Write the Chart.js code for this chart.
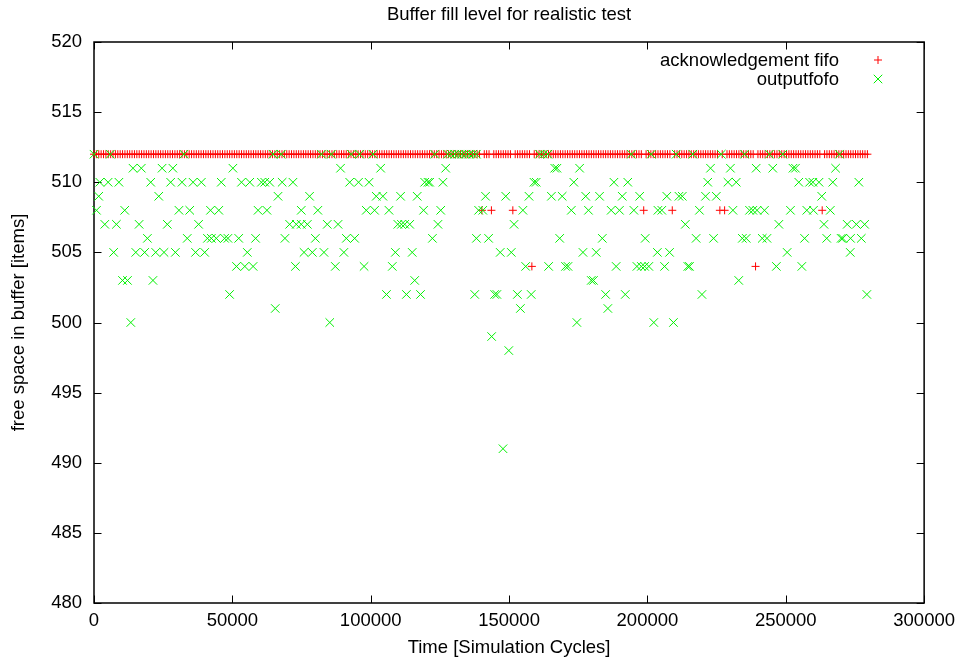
<!DOCTYPE html>
<html>
<head>
<meta charset="utf-8">
<script src="https://cdn.jsdelivr.net/npm/chart.js@4.4.0/dist/chart.umd.min.js"></script>
<style>
  html, body { margin: 0; padding: 0; background: #fff; }
  #wrap { width: 962px; height: 659px; }
</style>
</head>
<body>
<div id="wrap"><canvas id="fillChart" width="962" height="659"></canvas></div>
<script>
(function () {

  /* axis ranges + ticks */
  const xMin = 0, xMax = 300000, xStep = 50000;
  const yMin = 480, yMax = 520, yStep = 5;

  const chartTitle = "Buffer fill level for realistic test";

  /* acknowledgement fifo: one sample every ackStep cycles */
  const ackStep = 860;
  const ackLevels = [
    512,512,512,512,512,512,512,512,512,512,512,512,512,512,512,512,512,512,512,512, // 0
    512,512,512,512,512,512,512,512,512,512,512,512,512,512,512,512,512,512,512,512, // 20
    512,512,512,512,512,512,512,512,512,512,512,512,512,512,512,512,512,512,512,512, // 40
    512,512,512,512,512,512,512,512,512,512,512,512,512,512,512,512,512,512,512,512, // 60
    512,512,512,512,512,512,512,512,512,512,512,512,512,512,512,512,512,512,512,512, // 80
    512,512,512,512,512,512,512,512,512,512,512,512,512,512,512,512,512,512,512,512, // 100
    512,512,512,512,512,512,512,512,512,512,512,512,512,512,512,512,512,512,512,512, // 120
    512,512,512,512,512,512,512,512,512,512,512,512,512,512,512,512,512,512,512,512, // 140
    512,512,512,508,512,512,512,508,512,512,512,512,512,512,512,512,508,512,512,512, // 160
    512,512,512,512,504,512,512,512,512,512,512,512,512,512,512,512,512,512,512,512, // 180
    512,512,512,512,512,512,512,512,512,512,512,512,512,512,512,512,512,512,512,512, // 200
    512,512,512,512,512,512,512,512,512,512,512,508,512,512,512,512,512,512,512,512, // 220
    512,512,512,508,512,512,512,512,512,512,512,512,512,512,512,512,512,512,512,512, // 240
    512,512,512,508,512,508,512,512,512,512,512,512,512,512,512,512,512,512,504,512, // 260
    512,512,512,512,512,512,512,512,512,512,512,512,512,512,512,512,512,512,512,512, // 280
    512,512,512,512,512,512,508,512,512,512,512,512,512,512,512,512,512,512,512,512, // 300
    512,512,512,512,512,512                                                          // 320
  ];

  /* outputfofo: sample times (cycles) grouped by fill level */
  const out512 = [0, 5900, 32500, 64700, 67700, 82200, 85800, 93000, 96000, 100800, 123100,
    127800, 129100, 130400, 131700, 133000, 134300, 135600, 136900, 138200,
    161000, 162500, 164000, 194200, 201400, 210400, 216400, 226700, 235100, 244100, 248900, 269400];
  const out511 = [14100, 17100, 24600, 28500, 50200, 89100, 103600, 127100, 166500, 167300, 175500,
    222800, 230000, 239300, 245300, 252600, 253500, 268000];
  const out510 = [2100, 5100, 9000, 20500, 27700, 31800, 35800, 38800, 46000, 53300, 56300, 60500,
    61700, 63500, 68000, 71900, 92400, 95600, 99400, 119500, 120700, 121300, 126100, 159000, 159800,
    173400, 187900, 192900, 221800, 229100, 232100, 254700, 258600, 259800, 262000, 267000, 276400];
  const out509 = [1700, 23400, 66500, 77900, 102000, 104400, 110800, 116800, 141500, 148800, 157200,
    165300, 169200, 177700, 182700, 190900, 197200, 207000, 211400, 212600, 221000, 224900, 263000];
  const out508 = [900, 11100, 30700, 34600, 42100, 45100, 59300, 62500, 74900, 80900, 98400, 101400,
    106600, 119100, 125300, 139000, 140500, 155000, 172500, 178700, 186900, 189900, 195100, 203800,
    205200, 218800, 230900, 236900, 238100, 239600, 242300, 251700, 257600, 260000, 266100];
  const out507 = [3900, 8100, 16300, 26500, 37800, 70700, 73100, 74900, 77100, 84300, 88200, 109800,
    111100, 112300, 114100, 124300, 151800, 213700, 247500, 263800, 272200, 275500, 278500];
  const out506 = [19300, 33700, 41000, 42400, 44200, 47200, 48400, 52300, 58400, 69000, 80000, 91200,
    94200, 122300, 138200, 142600, 168300, 183700, 199200, 217600, 223900, 234300, 235700, 241500,
    243200, 256800, 264800, 270000, 270600, 273400, 277300];
  const out505 = [7100, 15100, 18300, 22300, 25300, 29400, 36700, 40000, 55400, 75900, 78900, 83100,
    90300, 108900, 115000, 146800, 150800, 176700, 181500, 203600, 208000, 250500, 273300];
  const out504 = [51500, 54500, 57500, 72800, 87200, 97600, 107800, 156000, 164300, 170400, 171300,
    188700, 196200, 197800, 199000, 200500, 206200, 214600, 215200, 246600, 255800];
  const out503 = [10300, 12100, 21300, 115900, 179700, 180500, 233000];
  const out502 = [49000, 105700, 112900, 118000, 137600, 144800, 145600, 153000, 158000, 184900,
    192000, 219700, 279300];
  const out501 = [65500, 154100, 185700];
  const out500 = [13300, 85200, 174500, 202300, 209400];
  const out499 = [143700];
  const out498 = [149900];
  const out491 = [147800];

  const outByLevel = [
    [512, out512], [511, out511], [510, out510], [509, out509], [508, out508], [507, out507],
    [506, out506], [505, out505], [504, out504], [503, out503], [502, out502], [501, out501],
    [500, out500], [499, out499], [498, out498], [491, out491]
  ];

  const ackPoints = ackLevels.map((v, i) => ({ x: i * ackStep, y: v }));
  const outPoints = [];
  outByLevel.forEach(([level, times]) => {
    times.forEach(t => outPoints.push({ x: t, y: level }));
  });

  const FONT = "'Liberation Sans', Arial, Helvetica, sans-serif";
  const FS = 18.5;
  Chart.defaults.font.family = FONT;
  Chart.defaults.font.size = FS;
  Chart.defaults.color = "#000";

  /* gnuplot style box with inward ticks on all four sides */
  const framePlugin = {
    id: "frame",
    beforeDatasetsDraw(chart) {
      const { ctx, chartArea: a, scales } = chart;
      const tl = 7.5;
      ctx.save();
      ctx.strokeStyle = "#000";
      ctx.lineWidth = 1;
      ctx.beginPath();
      scales.x.ticks.forEach(t => {
        const px = Math.round(scales.x.getPixelForValue(t.value)) + 0.5;
        ctx.moveTo(px, a.bottom); ctx.lineTo(px, a.bottom - tl);
        ctx.moveTo(px, a.top);    ctx.lineTo(px, a.top + tl);
      });
      scales.y.ticks.forEach(t => {
        const py = Math.round(scales.y.getPixelForValue(t.value)) + 0.5;
        ctx.moveTo(a.left, py);  ctx.lineTo(a.left + tl, py);
        ctx.moveTo(a.right, py); ctx.lineTo(a.right - tl, py);
      });
      ctx.stroke();
      ctx.lineWidth = 1.5;
      ctx.strokeRect(a.left, a.top, a.right - a.left, a.bottom - a.top);
      ctx.restore();
    }
  };

  /* title centred on the plot box + key at top right inside */
  const keyPlugin = {
    id: "key",
    afterDraw(chart) {
      const { ctx, chartArea: a } = chart;
      ctx.save();
      ctx.font = FS + "px " + FONT;
      ctx.fillStyle = "#000";
      ctx.textBaseline = "middle";
      ctx.textAlign = "center";
      ctx.fillText(chartTitle, (a.left + a.right) / 2, 14.5);

      const textRight = 839, markX = 878, y0 = 60, rowH = 19;
      ctx.textAlign = "right";
      chart.data.datasets.forEach((ds, i) => {
        const y = y0 + i * rowH;
        ctx.fillText(ds.label, textRight, y + 1);
        ctx.strokeStyle = ds.pointBorderColor;
        ctx.lineWidth = ds.pointBorderWidth;
        Chart.helpers.drawPoint(ctx, {
          pointStyle: ds.pointStyle, radius: ds.pointRadius, borderWidth: ds.pointBorderWidth, rotation: 0
        }, markX, y);
      });
      ctx.restore();
    }
  };

  new Chart(document.getElementById("fillChart"), {
    type: "scatter",
    data: {
      datasets: [
        {
          label: "acknowledgement fifo",
          data: ackPoints,
          pointStyle: "cross",
          pointRadius: 4,
          pointBorderWidth: 1,
          pointBorderColor: "#ff0000",
          pointBackgroundColor: "#ff0000",
          showLine: false,
          clip: false,
          order: 1
        },
        {
          label: "outputfofo",
          data: outPoints,
          pointStyle: "crossRot",
          pointRadius: 6,
          pointBorderWidth: 1,
          pointBorderColor: "#00f000",
          pointBackgroundColor: "#00f000",
          showLine: false,
          clip: false,
          order: 0
        }
      ]
    },
    options: {
      responsive: false,
      devicePixelRatio: 1,
      animation: false,
      events: [],
      layout: { padding: { left: 0, right: 37, top: 42, bottom: 0 } },
      scales: {
        x: {
          type: "linear",
          min: xMin, max: xMax,
          grid: { display: false, drawTicks: false },
          border: { display: false },
          ticks: { stepSize: xStep, padding: 7, maxRotation: 0, callback: v => String(v) },
          title: { display: true, text: "Time [Simulation Cycles]", padding: { top: 0, bottom: 0 } },
          afterFit(s) { s.height = 56; }
        },
        y: {
          type: "linear",
          min: yMin, max: yMax,
          grid: { display: false, drawTicks: false },
          border: { display: false },
          ticks: { stepSize: yStep, padding: 12, callback: v => String(v) },
          title: { display: true, text: "free space in buffer [items]", padding: { top: 7.5, bottom: 0 } },
          afterFit(s) { s.width = 94; }
        }
      },
      plugins: {
        legend: { display: false },
        tooltip: { enabled: false },
        title: { display: false }
      }
    },
    plugins: [framePlugin, keyPlugin]
  });

})();
</script>
</body>
</html>
